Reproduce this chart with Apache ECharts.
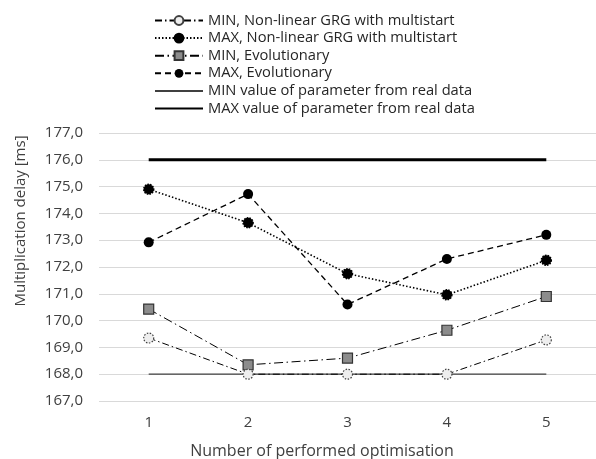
<!DOCTYPE html>
<html>
<head>
<meta charset="utf-8">
<script src="https://cdn.jsdelivr.net/npm/echarts@6/dist/echarts.min.js"></script>
<style>
  html, body { margin: 0; padding: 0; background: #fff; }
  #chart { width: 596px; height: 459px; }
</style>
</head>
<body>
<div id="chart"></div>
<script>
// Optimisation runs on the x axis
const categories = ['1', '2', '3', '4', '5'];

// Multiplication delay [ms] per run
const minGrg = [169.35, 168.0, 168.0, 168.0, 169.28];
const maxGrg = [174.9, 173.65, 171.75, 170.96, 172.25];
const minEvo = [170.43, 168.35, 168.6, 169.64, 170.9];
const maxEvo = [172.92, 174.72, 170.6, 172.3, 173.2];
const minReal = [168, 168, 168, 168, 168];
const maxReal = [176, 176, 176, 176, 176];

const seriesNames = [
  'MIN, Non-linear GRG with multistart',
  'MAX, Non-linear GRG with multistart',
  'MIN, Evolutionary',
  'MAX, Evolutionary',
  'MIN value of parameter from real data',
  'MAX value of parameter from real data'
];

const yAxisTitle = 'Multiplication delay [ms]';
const xAxisTitle = 'Number of performed optimisation';

const FONT = '"Open Sans", "Liberation Sans", sans-serif';
const TEXT = '#404040';

const chart = echarts.init(document.getElementById('chart'), null, { renderer: 'canvas' });

chart.setOption({
  animation: false,
  backgroundColor: '#ffffff',
  textStyle: { fontFamily: FONT },
  grid: { left: 99, right: -6, top: 133, bottom: 58, containLabel: false },
  legend: {
    orient: 'vertical',
    left: 149,
    top: 8,
    itemWidth: 48,
    itemHeight: 11,
    itemGap: 2.6,
    textStyle: { fontFamily: FONT, fontSize: 14.7, lineHeight: 14, color: '#262626' },
    data: seriesNames.map((n, i) => i >= 4 ? { name: n, itemStyle: { opacity: 0 } } : n)
  },
  xAxis: {
    type: 'category',
    data: categories,
    boundaryGap: true,
    axisLine: { show: false },
    axisTick: { show: false },
    axisLabel: { color: TEXT, fontSize: 15, fontFamily: FONT, margin: 14 }
  },
  yAxis: {
    type: 'value',
    min: 167,
    max: 177,
    interval: 1,
    axisLine: { show: false },
    axisTick: { show: false },
    axisLabel: {
      color: TEXT, fontSize: 15, fontFamily: FONT, margin: 16,
      formatter: v => v.toFixed(1).replace('.', ',')
    },
    splitLine: { lineStyle: { color: '#d9d9d9', width: 1 } }
  },
  graphic: [
    {
      type: 'text',
      x: 322,
      y: 451,
      style: {
        text: xAxisTitle,
        font: '16px ' + FONT,
        fill: TEXT,
        textAlign: 'center',
        textVerticalAlign: 'middle'
      }
    },
    {
      type: 'text',
      x: 21,
      y: 221,
      rotation: Math.PI / 2,
      style: {
        text: yAxisTitle,
        font: '15px ' + FONT,
        fill: TEXT,
        textAlign: 'center',
        textVerticalAlign: 'middle'
      }
    }
  ],
  series: [
    {
      name: seriesNames[4], type: 'line', data: minReal, z: 1,
      symbol: 'none', showSymbol: false,
      lineStyle: { color: '#404040', width: 1.3, type: 'solid' },
      itemStyle: { color: '#404040' }
    },
    {
      name: seriesNames[5], type: 'line', data: maxReal, z: 1,
      symbol: 'none', showSymbol: false,
      lineStyle: { color: '#000000', width: 3, type: 'solid' },
      itemStyle: { color: '#000000' }
    },
    {
      name: seriesNames[0], type: 'line', data: minGrg, z: 5,
      symbol: 'circle', symbolSize: 10,
      lineStyle: { color: '#000', width: 1, type: [7, 3, 1.5, 3] },
      itemStyle: { color: '#eeeeee', borderColor: '#404040', borderWidth: 1.2, borderType: [1.5, 1.5] }
    },
    {
      name: seriesNames[1], type: 'line', data: maxGrg, z: 4,
      symbol: 'circle', symbolSize: 10,
      lineStyle: { color: '#000', width: 1.6, type: [1.5, 2] },
      itemStyle: { color: '#000', borderColor: '#000', borderWidth: 1.5, borderType: [1.5, 1.2] }
    },
    {
      name: seriesNames[2], type: 'line', data: minEvo, z: 3,
      symbol: 'rect', symbolSize: 10,
      lineStyle: { color: '#000', width: 1, type: [9, 3.5, 1.5, 3.5] },
      itemStyle: { color: '#8c8c8c', borderColor: '#333', borderWidth: 1.2 }
    },
    {
      name: seriesNames[3], type: 'line', data: maxEvo, z: 3,
      symbol: 'circle', symbolSize: 10,
      lineStyle: { color: '#000', width: 1.3, type: [6, 4] },
      itemStyle: { color: '#000', borderColor: '#000', borderWidth: 0 }
    }
  ]
});
</script>
</body>
</html>
